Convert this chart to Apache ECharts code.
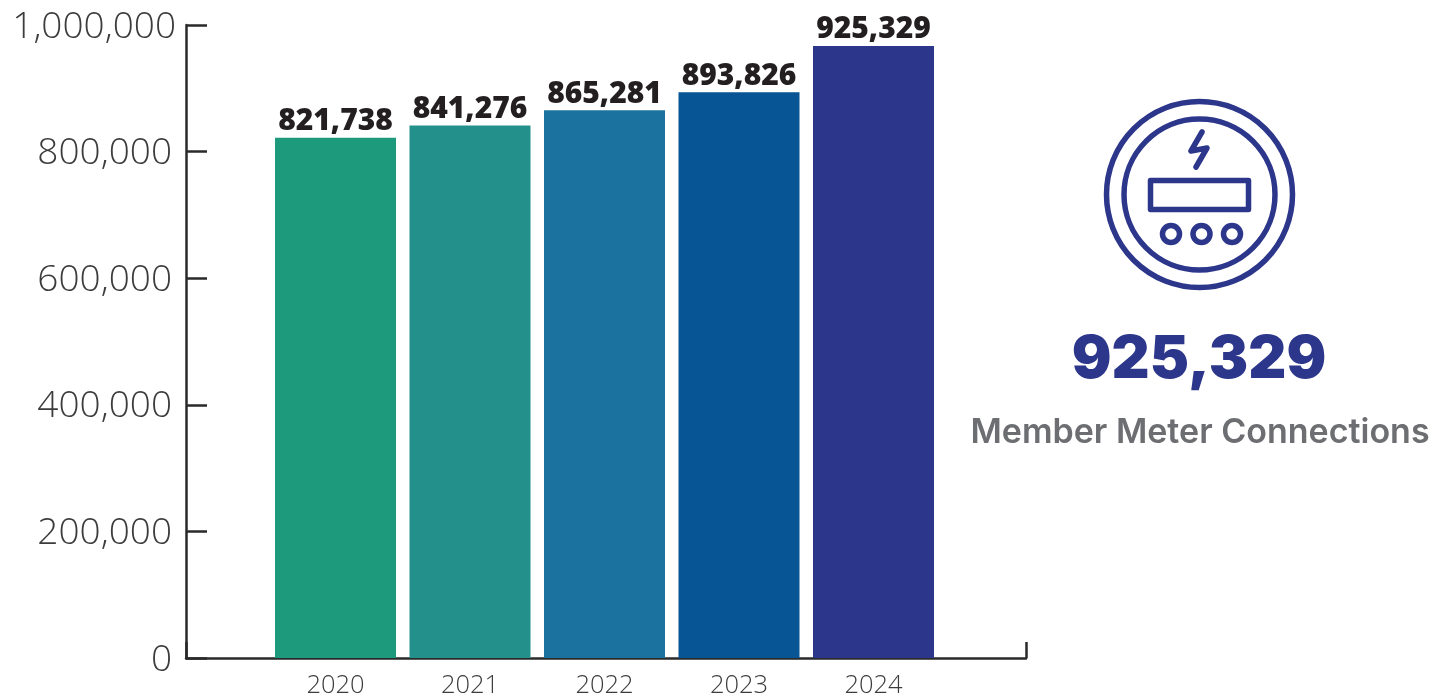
<!DOCTYPE html>
<html><head><meta charset="utf-8">
<style>html,body{margin:0;padding:0;background:#fff}#c{width:1435px;height:700px}</style>
<script src="https://cdn.jsdelivr.net/npm/echarts@6/dist/echarts.min.js"></script>
</head><body><div id="c"></div>
<script>
const years = ['2020','2021','2022','2023','2024'];
const barHeights = [821738,841276,865281,893826,967000];
const barLabels = ['821,738','841,276','865,281','893,826','925,329'];
const barColors = ['#1c9a7b','#24908c','#1c729e','#075595','#2c368b'];
const headline = '925,329';
const caption = 'Member Meter Connections';
const navy = '#2c368b';
const ring = (cx,cy,r,w)=>({type:'circle',shape:{cx,cy,r},style:{fill:'none',stroke:navy,lineWidth:w}});
const icon = [
  ring(1199.5,194.5,93,5.5),
  ring(1199.5,194.5,75.5,5.5),
  {type:'rect',shape:{x:1150.5,y:180.5,width:98,height:29},style:{fill:'none',stroke:navy,lineWidth:5.5,lineJoin:'round'}},
  ring(1171,234,8.5,5.5),
  ring(1201.5,234,8.5,5.5),
  ring(1232,234,8.5,5.5),
  {type:'polyline',shape:{points:[[1202,132],[1191,151],[1207,148],[1196,167]]},style:{fill:'none',stroke:navy,lineWidth:5.5,lineCap:'round',lineJoin:'round'}},
  {type:'text',style:{x:1199,y:360,text:headline,align:'center',verticalAlign:'middle',fontFamily:'Inter',fontWeight:900,fontSize:59,fill:navy}},
  {type:'text',style:{x:1200,y:433,text:caption,align:'center',verticalAlign:'middle',fontFamily:'Inter',fontWeight:600,fontSize:34,fill:'#6d6e71'}}
];
const chart = echarts.init(document.getElementById('c'), null, {renderer:'canvas'});
const axisInk = '#2b2a2b';
const tickText = {fontFamily:'Open Sans',fontWeight:300,fontSize:37,color:'#3c3c3c'};
chart.setOption({
  animation:false,
  backgroundColor:'#fff',
  grid:[
    {left:186,width:840,top:25,height:633},
    {left:268.25,width:672.5,top:25,height:633}
  ],
  xAxis:[
    {gridIndex:0,type:'category',data:[''],axisLine:{lineStyle:{color:axisInk,width:2.5}},
     axisTick:{show:true,inside:true,length:16,lineStyle:{color:axisInk,width:2.5}},axisLabel:{show:false}},
    {gridIndex:1,type:'category',data:years,axisLine:{show:false},axisTick:{show:false},
     axisLabel:{margin:15,fontFamily:'Open Sans',fontWeight:300,fontSize:25.5,color:'#3c3c3c'}}
  ],
  yAxis:[
    {gridIndex:0,type:'value',min:0,max:1000000,interval:200000,splitLine:{show:false},
     axisLine:{show:true,lineStyle:{color:axisInk,width:2.5}},
     axisTick:{show:true,inside:true,length:21,lineStyle:{color:axisInk,width:2.5}},
     axisLabel:{margin:10,...tickText,
       formatter:v=>(v===1000000?'{top|':'{n|')+v.toLocaleString('en-US')+'}',
       rich:{top:{...tickText,padding:[4,0,0,0]},n:{...tickText,padding:[4,4,0,0]}}}},
    {gridIndex:1,type:'value',min:0,max:1000000,show:false,splitLine:{show:false}}
  ],
  series:[{
    type:'bar',xAxisIndex:1,yAxisIndex:1,barWidth:121,
    data:barHeights.map((v,i)=>({value:v,itemStyle:{color:barColors[i]},
      label:{formatter:barLabels[i]}})),
    label:{show:true,position:'top',distance:1,fontFamily:'Open Sans',fontWeight:800,fontSize:30,color:'#231f20'}
  }],
  graphic:icon
});
</script></body></html>
